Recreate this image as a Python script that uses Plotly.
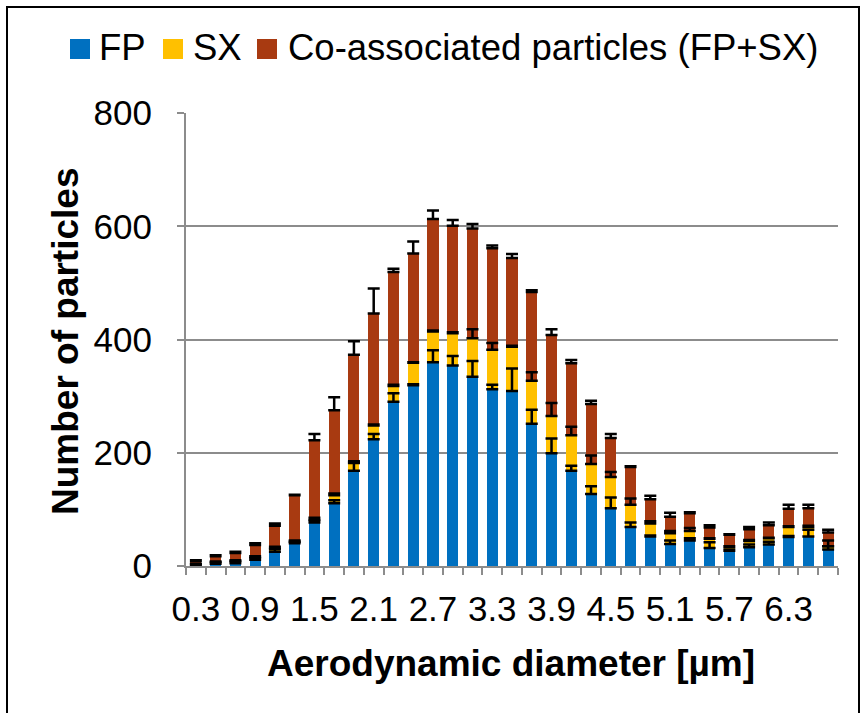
import numpy as np
import plotly.graph_objects as go

# ---------------- data ----------------
diameter = [0.3, 0.5, 0.7, 0.9, 1.1, 1.3, 1.5, 1.7, 1.9, 2.1, 2.3, 2.5, 2.7, 2.9, 3.1, 3.3, 3.5,
            3.7, 3.9, 4.1, 4.3, 4.5, 4.7, 4.9, 5.1, 5.3, 5.5, 5.7, 5.9, 6.1, 6.3, 6.5, 6.7]
tick_labels = [0.3, 0.9, 1.5, 2.1, 2.7, 3.3, 3.9, 4.5, 5.1, 5.7, 6.3]

fp = [2, 4, 5, 11, 25, 40, 77, 111, 168, 224, 290, 319, 360, 354, 334, 312, 309,
      251, 199, 168, 127, 102, 69, 52, 39, 45, 32, 27, 33, 38, 51, 52, 29]
sx = [1, 3, 4, 5, 7, 3, 5, 14, 14, 24, 28, 40, 54, 57, 68, 70, 78,
      76, 66, 63, 53, 55, 39, 23, 19, 17, 16, 7, 11, 11, 18, 17, 6]
co = [6, 10, 14, 21, 39, 82, 140, 150, 191, 198, 201, 193, 199, 190, 194, 179, 157,
      157, 143, 127, 106, 69, 67, 43, 29, 31, 20, 21, 21, 23, 32, 33, 24]

fp_err = [1, 2, 3, 3, 5, 3, 3, 5, 15, 9, 15, 2, 21, 17, 28, 8, 40,
          25, 26, 9, 14, 19, 8, 2, 6, 4, 10, 2, 5, 5, 2, 12, 6]
sx_err = [1, 1, 1, 1, 2, 2, 3, 3, 3, 2, 2, 1, 2, 2, 16, 12, 2,
          15, 23, 15, 15, 9, 11, 4, 4, 5, 1, 1, 2, 1, 1, 2, 10]
co_err = [1, 2, 2, 3, 4, 1, 11, 23, 24, 44, 6, 21, 15, 10, 8, 5, 7,
          3, 10, 6, 6, 7, 1, 6, 7, 2, 4, 1, 4, 5, 7, 6, 5]

series_names = ["FP", "SX", "Co-associated particles (FP+SX)"]
colors = ["#0070C0", "#FFC000", "#A83A11"]

FONT = "Liberation Sans, Arial, sans-serif"
GRID = "#8C8C8C"

fig = go.Figure()
values = [fp, sx, co]
errors = [fp_err, sx_err, co_err]
for name, vals, col in zip(series_names, values, colors):
    fig.add_trace(go.Bar(x=diameter, y=vals, name=name, width=0.112, showlegend=False,
                         marker=dict(color=col, line=dict(width=0))))

# error bars drawn on top of all stacked segments
cum = np.zeros(len(diameter))
for vals, err in zip(values, errors):
    cum = cum + np.array(vals)
    fig.add_trace(go.Scatter(x=diameter, y=cum.tolist(), mode="markers",
                             marker=dict(size=1, color="rgba(0,0,0,0)"),
                             showlegend=False, hoverinfo="skip",
                             error_y=dict(type="data", symmetric=False, array=err,
                                          arrayminus=[0] * len(err), color="black",
                                          thickness=2.5, width=6)))

W, H = 866, 713
L, R, T, B = 186, 28, 113, 147
pw, ph = W - L - R, H - T - B

def px_x(p):
    return (p - L) / pw

def px_y(p):
    return (H - B - p) / ph

# legend (swatches + labels) placed in the top margin
legend_square_left = [70, 163, 257]
legend_text_left = [97, 191, 286]
shapes = [dict(type="rect", xref="paper", yref="paper",
               x0=px_x(7), x1=px_x(859), y0=px_y(720), y1=px_y(7),
               line=dict(color="black", width=2), fillcolor="rgba(0,0,0,0)", layer="below")]
annotations = []
for name, col, sq, tx in zip(series_names, colors, legend_square_left, legend_text_left):
    shapes.append(dict(type="rect", xref="paper", yref="paper",
                       x0=px_x(sq), x1=px_x(sq + 20), y0=px_y(59), y1=px_y(39),
                       line=dict(width=0), fillcolor=col))
    annotations.append(dict(text=name, xref="paper", yref="paper", x=px_x(tx), y=px_y(48),
                            xanchor="left", yanchor="middle", showarrow=False,
                            font=dict(size=36.5)))

annotations += [
    dict(text="<b>Aerodynamic diameter [µm]</b>", xref="paper", yref="paper",
         x=px_x(511), y=px_y(663), xanchor="center", yanchor="middle",
         showarrow=False, font=dict(size=37)),
    dict(text="<b>Number of particles</b>", xref="paper", yref="paper",
         x=px_x(65), y=px_y(341), xanchor="center", yanchor="middle",
         textangle=-90, showarrow=False, font=dict(size=37)),
]

fig.update_layout(
    width=W, height=H,
    margin=dict(l=L, r=R, t=T, b=B, autoexpand=False),
    barmode="stack",
    showlegend=False,
    plot_bgcolor="white", paper_bgcolor="white",
    font=dict(family=FONT, size=35, color="black"),
    xaxis=dict(range=[0.2, 6.8], tickmode="array", tickvals=tick_labels,
               ticktext=[f"{v:.1f}" for v in tick_labels], ticks="",
               showline=True, linecolor=GRID, linewidth=2, showgrid=False, zeroline=False,
               ticklabelstandoff=11,
               minor=dict(ticks="outside", tick0=0.2, dtick=0.2, ticklen=7, tickwidth=2,
                          tickcolor=GRID, showgrid=False),
               tickfont=dict(size=35)),
    yaxis=dict(range=[0, 800], tickmode="linear", tick0=0, dtick=200,
               showline=True, linecolor=GRID, linewidth=2,
               showgrid=True, gridcolor=GRID, gridwidth=2, zeroline=False,
               ticks="outside", ticklen=7, tickwidth=2, tickcolor=GRID,
               ticklabelstandoff=18, tickfont=dict(size=35)),
    annotations=annotations,
    shapes=shapes,
)

fig.write_html("out.html", config={"displayModeBar": False},
               post_script="document.body.style.margin='0';document.body.style.overflow='hidden';")
